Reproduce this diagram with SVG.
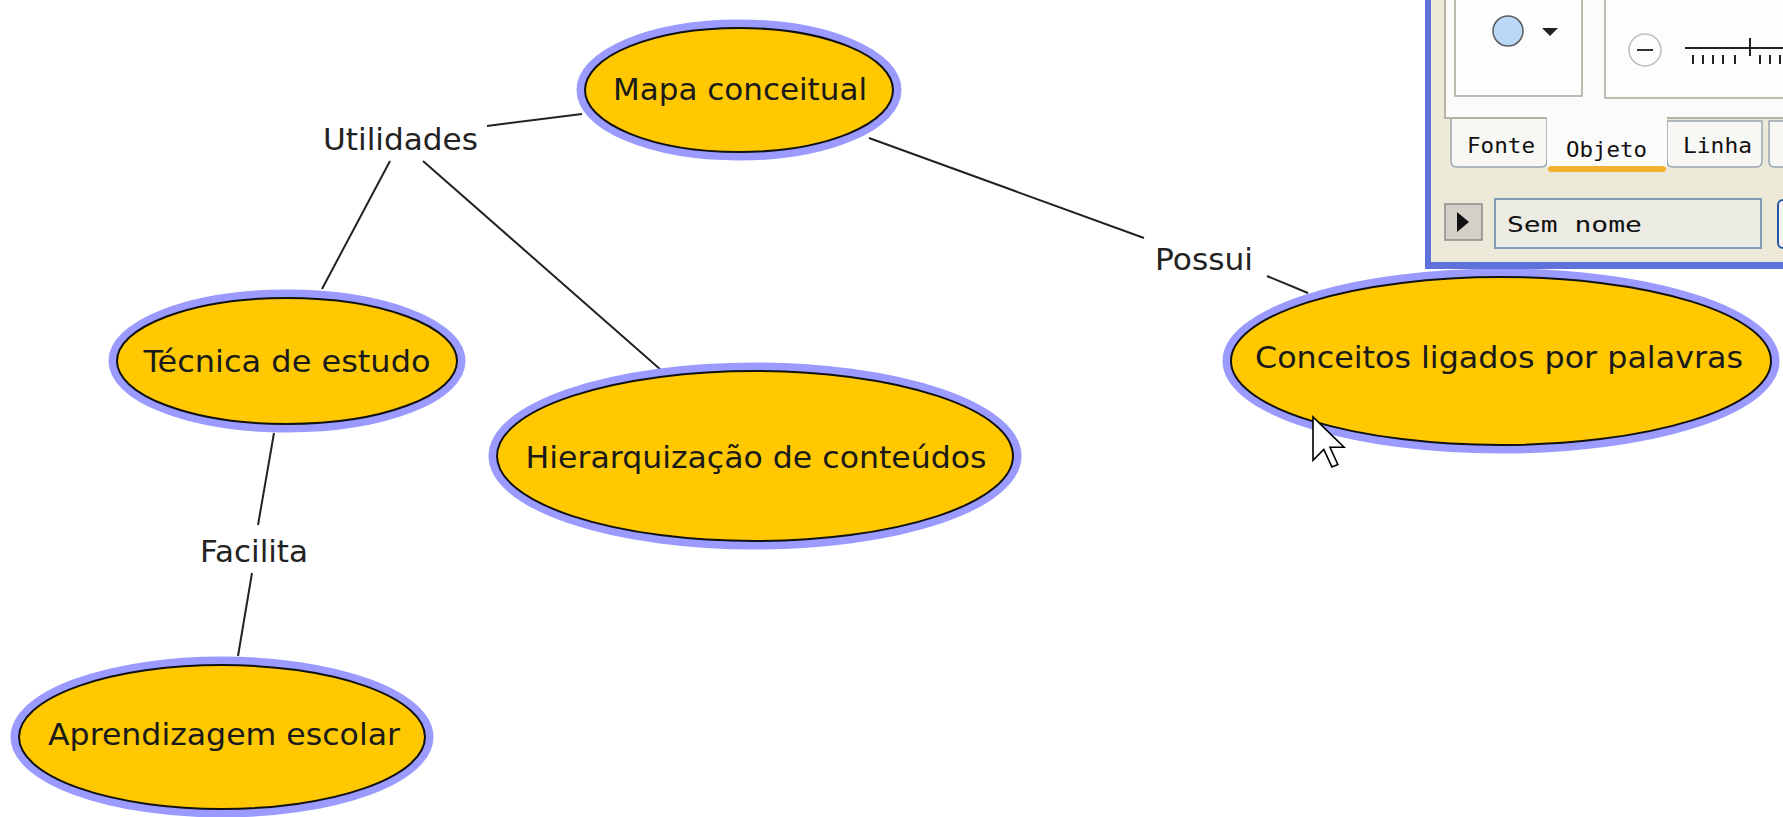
<svg xmlns="http://www.w3.org/2000/svg" width="1783" height="817" viewBox="0 0 1783 817">
<defs>
<style>
.halo{fill:none;stroke:#9a9aff;stroke-width:9}
.body{fill:#ffc800;stroke:#111;stroke-width:2}
.lbl{font-family:"DejaVu Sans",Verdana,sans-serif;font-size:31px;fill:#1a1a1a;text-anchor:middle}
.link{font-family:"DejaVu Sans",Verdana,sans-serif;font-size:31px;fill:#222}
.conn line{stroke:#222;stroke-width:2}
.ui{font-family:"DejaVu Sans Mono","DejaVu Sans",monospace;font-size:21px;fill:#111}
.tick{stroke:#222;stroke-width:2}
</style>
</defs>
<rect width="1783" height="817" fill="#ffffff"/>

<g id="connectors" class="conn">
<line x1="582" y1="114" x2="487" y2="126"/>
<line x1="390" y1="161" x2="322" y2="289"/>
<line x1="423" y1="161" x2="661" y2="370"/>
<line x1="869" y1="138" x2="1144" y2="238"/>
<line x1="1267" y1="276" x2="1308" y2="293"/>
<line x1="274" y1="433" x2="258" y2="525"/>
<line x1="252" y1="573" x2="238" y2="656"/>
</g>

<g id="link-utilidades"><text class="link" x="323" y="150" textLength="155" lengthAdjust="spacingAndGlyphs">Utilidades</text></g>
<g id="link-possui"><text class="link" x="1155" y="270" textLength="98" lengthAdjust="spacingAndGlyphs">Possui</text></g>
<g id="link-facilita"><text class="link" x="200" y="562" textLength="108" lengthAdjust="spacingAndGlyphs">Facilita</text></g>

<g id="node-mapa">
<ellipse class="halo" cx="739" cy="90" rx="158" ry="66"/>
<ellipse class="body" cx="739" cy="90" rx="154" ry="62"/>
<text class="lbl" x="740" y="100" textLength="254" lengthAdjust="spacingAndGlyphs">Mapa conceitual</text>
</g>

<g id="node-tecnica">
<ellipse class="halo" cx="287" cy="361" rx="174" ry="67"/>
<ellipse class="body" cx="287" cy="361" rx="170" ry="63"/>
<text class="lbl" x="287" y="372" textLength="287" lengthAdjust="spacingAndGlyphs">Técnica de estudo</text>
</g>

<g id="node-hierarquizacao">
<ellipse class="halo" cx="755" cy="456" rx="262" ry="89"/>
<ellipse class="body" cx="755" cy="456" rx="258" ry="85"/>
<text class="lbl" x="756" y="468" textLength="461" lengthAdjust="spacingAndGlyphs">Hierarquização de conteúdos</text>
</g>

<g id="node-aprendizagem">
<ellipse class="halo" cx="222" cy="737" rx="207" ry="76"/>
<ellipse class="body" cx="222" cy="737" rx="203" ry="72"/>
<text class="lbl" x="224" y="745" textLength="352" lengthAdjust="spacingAndGlyphs">Aprendizagem escolar</text>
</g>

<g id="node-conceitos">
<ellipse class="halo" cx="1501" cy="361" rx="274" ry="88"/>
<ellipse class="body" cx="1501" cy="361" rx="270" ry="84"/>
<text class="lbl" x="1499" y="368" textLength="488" lengthAdjust="spacingAndGlyphs">Conceitos ligados por palavras</text>
</g>

<g id="panel">
<rect x="1425" y="0" width="358" height="269" fill="#5f72dc"/>
<rect x="1431" y="0" width="352" height="262" fill="#ece9d8"/>
<rect x="1445" y="-2" width="340" height="120" fill="#fbfbfb" stroke="#a09e90" stroke-width="1.5"/>
<rect x="1455" y="-2" width="127" height="98" fill="#fdfdfd" stroke="#a8a698" stroke-width="1.5"/>
<circle cx="1508" cy="31" r="15" fill="#b9d8f7" stroke="#5a5a5a" stroke-width="1.5"/>
<polygon points="1542,28 1558,28 1550,36" fill="#222"/>
<rect x="1605" y="-2" width="190" height="100" fill="#fdfdfd" stroke="#a8a698" stroke-width="1.5"/>
<circle cx="1645" cy="50" r="16" fill="none" stroke="#bdbdbd" stroke-width="1.5"/>
<line x1="1637" y1="50" x2="1653" y2="50" stroke="#333" stroke-width="2"/>
<line x1="1685" y1="48" x2="1783" y2="48" stroke="#222" stroke-width="2"/>
<g class="tick">
<line x1="1693" y1="55" x2="1693" y2="64"/>
<line x1="1703" y1="55" x2="1703" y2="64"/>
<line x1="1713" y1="55" x2="1713" y2="64"/>
<line x1="1723" y1="55" x2="1723" y2="64"/>
<line x1="1735" y1="55" x2="1735" y2="64"/>
<line x1="1750" y1="38" x2="1750" y2="56"/>
<line x1="1760" y1="55" x2="1760" y2="64"/>
<line x1="1770" y1="55" x2="1770" y2="64"/>
<line x1="1780" y1="55" x2="1780" y2="64"/>
</g>
<path d="M1451,119 V161 Q1451,167 1457,167 H1541 Q1547,167 1547,161 V119" fill="#f7f7f3" stroke="#9aa6b4" stroke-width="1.5"/>
<path d="M1667,121 V161 Q1667,167 1673,167 H1756 Q1762,167 1762,161 V121 Z" fill="#f7f7f3" stroke="#9aa6b4" stroke-width="1.5"/>
<path d="M1769,121 V161 Q1769,167 1775,167 H1790 V121 Z" fill="#f7f7f3" stroke="#9aa6b4" stroke-width="1.5"/>
<rect x="1547" y="117" width="120" height="50" fill="#fbfbfb"/>
<rect x="1548" y="166" width="118" height="6" rx="3" fill="#f4b02f"/>
<text class="ui" x="1467" y="153" textLength="68" lengthAdjust="spacingAndGlyphs">Fonte</text>
<text class="ui" x="1566" y="157" textLength="81" lengthAdjust="spacingAndGlyphs">Objeto</text>
<text class="ui" x="1683" y="153" textLength="69" lengthAdjust="spacingAndGlyphs">Linha</text>
<rect x="1445" y="204" width="37" height="36" fill="#d4d0c8" stroke="#8a8a8a" stroke-width="1.5"/>
<polygon points="1457,212 1457,232 1469,222" fill="#111"/>
<rect x="1495" y="199" width="266" height="49" fill="#ecebe4" stroke="#7f9db9" stroke-width="2"/>
<text class="ui" x="1507" y="232" textLength="135" lengthAdjust="spacingAndGlyphs">Sem nome</text>
<rect x="1778" y="200" width="20" height="48" rx="5" fill="#f4f4f4" stroke="#2a56a8" stroke-width="2"/>
</g>

<g id="cursor">
<polygon points="0,0 0,16 4,12 7,18.5 9.2,17.6 6.3,11.2 11.5,11.2" transform="translate(1313,417) scale(2.7)" fill="#ffffff" stroke="#000" stroke-width="0.6" stroke-linejoin="miter"/>
</g>
</svg>
